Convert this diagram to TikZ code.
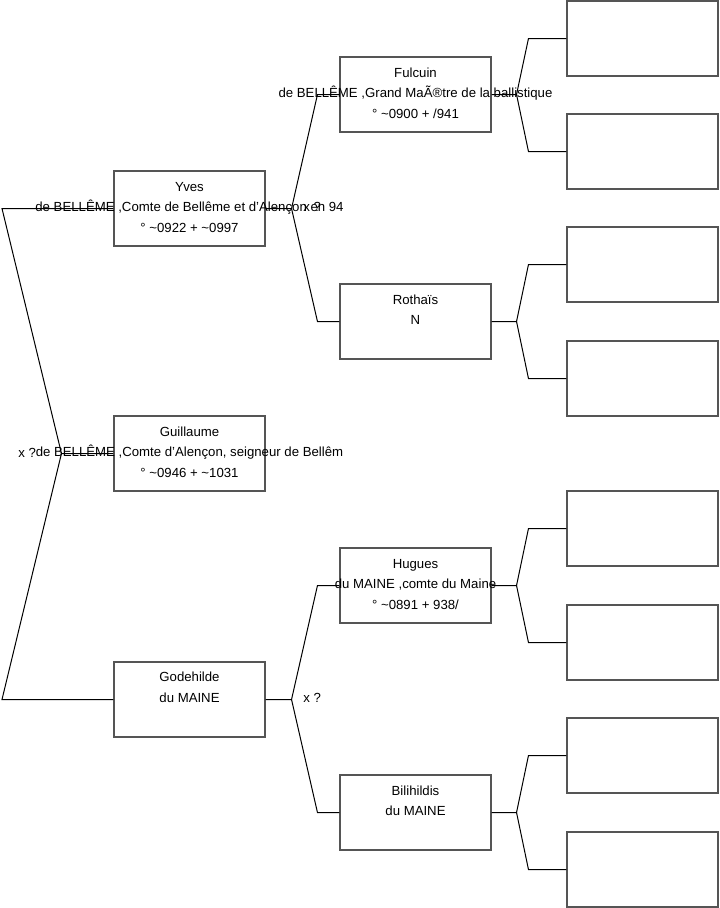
\documentclass[tikz,border=0pt]{standalone}
\usepackage{fontspec}
\setmainfont{Liberation Sans}
\usetikzlibrary{calc}
\definecolor{boxgray}{RGB}{85,85,85}
\begin{document}
\begin{tikzpicture}[x=0.75pt,y=-0.75pt,
  pbox/.style={draw=boxgray, line width=0.8pt, minimum width=113.25pt, minimum height=56.25pt, inner sep=0pt},
  ptxt/.style={anchor=base, inner sep=0pt, font=\fontsize{9.9}{12}\selectfont},
  plbl/.style={anchor=base west, inner sep=0pt, font=\fontsize{9.9}{12}\selectfont},
  conn/.style={draw=black, line width=0.75pt}]
\useasboundingbox (0,0) rectangle (719,908);

% boxes
\node[pbox] (yves) at (189.5,208.5) {};
\node[pbox] (guil) at (189.5,453.5) {};
\node[pbox] (gode) at (189.5,699.5) {};
\node[pbox] (fulc) at (415.5,94.5) {};
\node[pbox] (roth) at (415.5,321.5) {};
\node[pbox] (hugu) at (415.5,585.5) {};
\node[pbox] (bili) at (415.5,812.5) {};
\node[pbox] (r1) at (642.5,38.5) {};
\node[pbox] (r2) at (642.5,151.5) {};
\node[pbox] (r3) at (642.5,264.5) {};
\node[pbox] (r4) at (642.5,378.5) {};
\node[pbox] (r5) at (642.5,528.5) {};
\node[pbox] (r6) at (642.5,642.5) {};
\node[pbox] (r7) at (642.5,755.5) {};
\node[pbox] (r8) at (642.5,869.5) {};

% texts
\node[ptxt] (yves1) at (189.5,191) {Yves};
\node[ptxt] (yves2) at (189.5,211.5) {de BELLÊME ,Comte de Bellême et d'Alençon en 94};
\node[ptxt] (yves3) at (189.5,232) {° \textasciitilde0922 + \textasciitilde0997};

\node[ptxt] (guil1) at (189.5,436) {Guillaume};
\node[ptxt] (guil2) at (189.5,456.5) {de BELLÊME ,Comte d'Alençon, seigneur de Bellêm};
\node[ptxt] (guil3) at (189.5,477) {° \textasciitilde0946 + \textasciitilde1031};

\node[ptxt] (gode1) at (189.5,681.5) {Godehilde};
\node[ptxt] (gode2) at (189.5,702) {du MAINE};

\node[ptxt] (fulc1) at (415.5,77) {Fulcuin};
\node[ptxt] (fulc2) at (415.5,97.5) {de BELLÊME ,Grand MaÃ®tre de la ballistique};
\node[ptxt] (fulc3) at (415.5,118) {° \textasciitilde0900 + /941};

\node[ptxt] (roth1) at (415.5,304) {Rothaïs};
\node[ptxt] (roth2) at (415.5,324.5) {N};

\node[ptxt] (hugu1) at (415.5,568) {Hugues};
\node[ptxt] (hugu2) at (415.5,588.5) {du MAINE ,comte du Maine};
\node[ptxt] (hugu3) at (415.5,609) {° \textasciitilde0891 + 938/};

\node[ptxt] (bili1) at (415.5,795) {Bilihildis};
\node[ptxt] (bili2) at (415.5,815.5) {du MAINE};

% marriage labels
\node[plbl] (xy) at (303,211) {x ?};
\node[plbl] (xg) at (18,457) {x ?};
\node[plbl] (xh) at (303,702) {x ?};

% connectors: left bracket
\coordinate (lt) at (2,208.5);
\coordinate (lb) at (2,699.5);
\coordinate (lv) at ($(guil.west)+(-52,0)$);
\draw[conn] (yves.west) -- (lt) -- (lv) -- (guil.west);
\draw[conn] (lv) -- (lb) -- (gode.west);

% Yves -> Fulcuin / Rothais
\coordinate (jy) at ($(yves.east)+(26,0)$);
\draw[conn] (yves.east) -- (jy) -- ($(fulc.west)+(-22,0)$) -- (fulc.west);
\draw[conn] (jy) -- ($(roth.west)+(-22,0)$) -- (roth.west);

% Godehilde -> Hugues / Bilihildis
\coordinate (jg) at ($(gode.east)+(26,0)$);
\draw[conn] (gode.east) -- (jg) -- ($(hugu.west)+(-22,0)$) -- (hugu.west);
\draw[conn] (jg) -- ($(bili.west)+(-22,0)$) -- (bili.west);

% middle column -> right column
\coordinate (jf) at ($(fulc.east)+(25,0)$);
\draw[conn] (fulc.east) -- (jf) -- ($(r1.west)+(-38,0)$) -- (r1.west);
\draw[conn] (jf) -- ($(r2.west)+(-38,0)$) -- (r2.west);

\coordinate (jr) at ($(roth.east)+(25,0)$);
\draw[conn] (roth.east) -- (jr) -- ($(r3.west)+(-38,0)$) -- (r3.west);
\draw[conn] (jr) -- ($(r4.west)+(-38,0)$) -- (r4.west);

\coordinate (jh) at ($(hugu.east)+(25,0)$);
\draw[conn] (hugu.east) -- (jh) -- ($(r5.west)+(-38,0)$) -- (r5.west);
\draw[conn] (jh) -- ($(r6.west)+(-38,0)$) -- (r6.west);

\coordinate (jb) at ($(bili.east)+(25,0)$);
\draw[conn] (bili.east) -- (jb) -- ($(r7.west)+(-38,0)$) -- (r7.west);
\draw[conn] (jb) -- ($(r8.west)+(-38,0)$) -- (r8.west);
\end{tikzpicture}
\end{document}
